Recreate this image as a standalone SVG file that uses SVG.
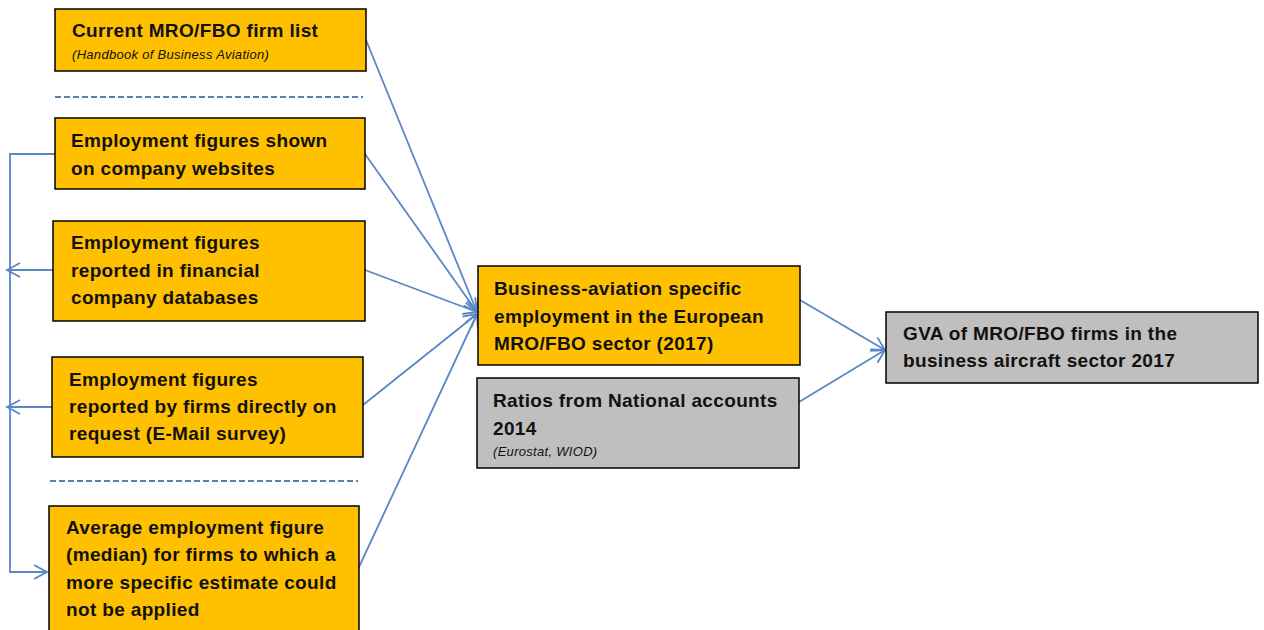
<svg xmlns="http://www.w3.org/2000/svg" width="1264" height="630" viewBox="0 0 1264 630">
<style>
.box{fill:#FFC000;stroke:#000;stroke-width:1.5}
.gray{fill:#BFBFBF;stroke:#000;stroke-width:1.5}
.t{font-family:"Liberation Sans",Arial,sans-serif;font-weight:bold;font-size:19px;letter-spacing:0.35px;fill:#111}
.i{font-family:"Liberation Sans",Arial,sans-serif;font-style:italic;font-size:13px;letter-spacing:0.3px;fill:#111}
.c{fill:none;stroke:#5A87C5;stroke-width:1.8}
.d{fill:none;stroke:#5A7FAF;stroke-width:2;stroke-dasharray:6,3}
</style>
<defs>
<marker id="a" markerWidth="16" markerHeight="16" refX="14" refY="8" orient="auto" markerUnits="userSpaceOnUse">
<path d="M1,1 L14,8 L1,15" fill="none" stroke="#5A87C5" stroke-width="1.8"/>
</marker>
</defs>
<rect width="1264" height="630" fill="#fff"/>
<line class="d" x1="55" y1="97" x2="363" y2="97"/>
<line class="d" x1="50" y1="481" x2="358" y2="481"/>
<g id="connectors">
<path class="c" d="M55,154 H10 V572 H47" marker-end="url(#a)"/>
<path class="c" d="M53,270 H7" marker-end="url(#a)"/>
<path class="c" d="M52,407 H7" marker-end="url(#a)"/>
<path class="c" d="M366,40 L477,312" marker-end="url(#a)"/>
<path class="c" d="M365,154 L477,312" marker-end="url(#a)"/>
<path class="c" d="M365,270 L477,312" marker-end="url(#a)"/>
<path class="c" d="M363,405 L477,314" marker-end="url(#a)"/>
<path class="c" d="M359,567 L477,314" marker-end="url(#a)"/>
<path class="c" d="M800,300 L885,350" marker-end="url(#a)"/>
<path class="c" d="M799,402 L885,350" marker-end="url(#a)"/>
</g>
<g id="n1"><rect class="box" x="55" y="9" width="311" height="62"/>
<text class="t" x="72" y="37">Current MRO/FBO firm list</text>
<text class="i" x="72" y="59">(Handbook of Business Aviation)</text></g>
<g id="n2"><rect class="box" x="55" y="118" width="310" height="71"/>
<text class="t" x="71" y="147">Employment figures shown</text>
<text class="t" x="71" y="175">on company websites</text></g>
<g id="n3"><rect class="box" x="53" y="221" width="312" height="100"/>
<text class="t" x="71" y="249">Employment figures</text>
<text class="t" x="71" y="277">reported in financial</text>
<text class="t" x="71" y="304">company databases</text></g>
<g id="n4"><rect class="box" x="52" y="357" width="311" height="100"/>
<text class="t" x="69" y="386">Employment figures</text>
<text class="t" x="69" y="413">reported by firms directly on</text>
<text class="t" x="69" y="440">request (E-Mail survey)</text></g>
<g id="n5"><rect class="box" x="49" y="506" width="310" height="130"/>
<text class="t" x="66" y="534">Average employment figure</text>
<text class="t" x="66" y="561">(median) for firms to which a</text>
<text class="t" x="66" y="589">more specific estimate could</text>
<text class="t" x="66" y="616">not be applied</text></g>
<g id="n6"><rect class="box" x="478" y="266" width="322" height="99"/>
<text class="t" x="494" y="295">Business-aviation specific</text>
<text class="t" x="494" y="323">employment in the European</text>
<text class="t" x="494" y="350">MRO/FBO sector (2017)</text></g>
<g id="n7"><rect class="gray" x="477" y="378" width="322" height="90"/>
<text class="t" x="493" y="407">Ratios from National accounts</text>
<text class="t" x="493" y="435">2014</text>
<text class="i" x="493" y="456">(Eurostat, WIOD)</text></g>
<g id="n8"><rect class="gray" x="886" y="312" width="372" height="71"/>
<text class="t" x="903" y="340">GVA of MRO/FBO firms in the</text>
<text class="t" x="903" y="367">business aircraft sector 2017</text></g>
</svg>
